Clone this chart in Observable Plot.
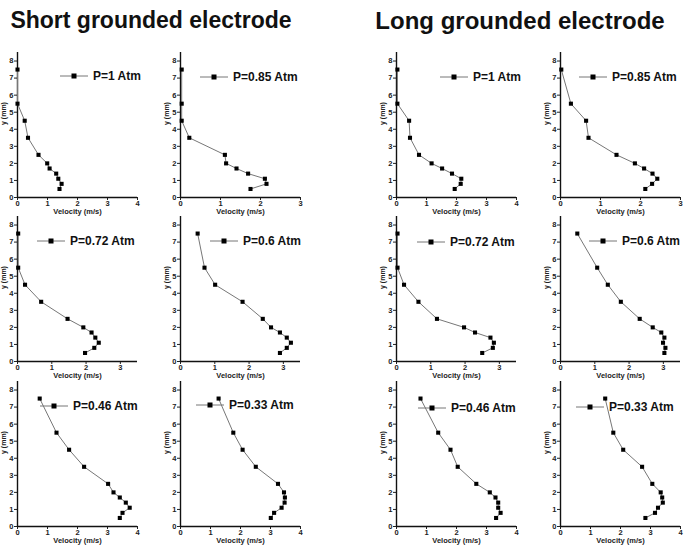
<!DOCTYPE html>
<html>
<head>
<meta charset="utf-8">
<script src="https://cdn.jsdelivr.net/npm/d3@7"></script>
<script src="https://cdn.jsdelivr.net/npm/@observablehq/plot@0.6"></script>
<style>
  html, body { margin: 0; padding: 0; background: #fff; }
  #root { position: relative; width: 691px; height: 554px; overflow: hidden; background: #fff; font-family: "Liberation Sans", Arial, sans-serif; }
  .title { position: absolute; top: 7px; font-weight: bold; color: #111; white-space: nowrap; transform: translateX(-50%); }
  .panel { position: absolute; }
  .legend { position: absolute; }
</style>
</head>
<body>
<div id="root"></div>
<script>
// Heights above the electrode (mm) at which velocity was measured
const yLevels = [7.5, 5.5, 4.5, 3.5, 2.5, 2.0, 1.7, 1.4, 1.1, 0.8, 0.5];

// Velocity (m/s) — short grounded electrode
const shortP100 = [0.00, 0.00, 0.24, 0.35, 0.70, 0.99, 1.07, 1.29, 1.36, 1.47, 1.40];
const shortP085 = [0.03, 0.03, 0.03, 0.22, 1.11, 1.14, 1.40, 1.69, 2.11, 2.15, 1.75];
const shortP072 = [0.02, 0.02, 0.22, 0.69, 1.46, 1.92, 2.16, 2.27, 2.37, 2.24, 1.97];
const shortP060 = [0.50, 0.70, 1.01, 1.81, 2.40, 2.64, 2.90, 3.10, 3.22, 3.10, 2.90];
const shortP046 = [0.74, 1.30, 1.72, 2.22, 3.02, 3.20, 3.41, 3.61, 3.74, 3.50, 3.41];
const shortP033 = [1.27, 1.76, 2.07, 2.51, 3.25, 3.45, 3.48, 3.47, 3.37, 3.12, 3.01];

// Velocity (m/s) — long grounded electrode
const longP100 = [0.03, 0.03, 0.42, 0.45, 0.75, 1.17, 1.52, 1.85, 2.16, 2.14, 1.94];
const longP085 = [0.02, 0.26, 0.64, 0.70, 1.40, 1.86, 2.09, 2.30, 2.42, 2.29, 2.12];
const longP072 = [0.03, 0.03, 0.22, 0.64, 1.18, 1.97, 2.29, 2.74, 2.84, 2.81, 2.50];
const longP060 = [0.49, 1.07, 1.38, 1.76, 2.31, 2.69, 2.94, 3.03, 2.99, 3.06, 3.03];
const longP046 = [0.80, 1.39, 1.80, 2.04, 2.66, 3.11, 3.30, 3.39, 3.39, 3.47, 3.32];
const longP033 = [1.49, 1.76, 2.09, 2.72, 3.06, 3.34, 3.39, 3.41, 3.25, 3.15, 2.83];

// Legend labels, x-axis maxima
const legendLabels = ["P=1 Atm", "P=0.85 Atm", "P=0.72 Atm", "P=0.6 Atm", "P=0.46 Atm", "P=0.33 Atm"];
const xMaxShort = [4, 3, 3.5, 3.5, 4, 4];
const xMaxLong  = [4, 3, 3.5, 3.5, 4, 4];
const titles = ["Short grounded electrode", "Long grounded electrode"];

// ---- layout (not data) ----
const colAxisX = [17, 180, 396, 560];
const rowBaseY = [197, 361, 526];
const plotW = 120, plotH = 145;
const mL = 17, mR = 10, mT = 6, mB = 22;
// legend line start offset and vertical offset from frame top, per panel
const legendOffShort = [[43, 24], [20, 25], [20, 25], [30, 25], [23, 25], [16, 24]];
const legendOffLong  = [[44, 25], [19, 25], [21, 26], [29, 25], [22, 27], [16, 26]];
const titleLayout = [[151, 23], [520, 24]];

const root = document.getElementById("root");

titleLayout.forEach(([cx, fs], i) => {
  const d = document.createElement("div");
  d.className = "title";
  d.style.left = cx + "px";
  d.style.fontSize = fs + "px";
  d.textContent = titles[i];
  root.appendChild(d);
});

const groups = [
  {series: [shortP100, shortP085, shortP072, shortP060, shortP046, shortP033], xmax: xMaxShort, cols: [0, 1], leg: legendOffShort},
  {series: [longP100, longP085, longP072, longP060, longP046, longP033], xmax: xMaxLong, cols: [2, 3], leg: legendOffLong}
];

groups.forEach(g => {
  g.series.forEach((vals, k) => {
    const row = Math.floor(k / 2), col = g.cols[k % 2];
    const data = yLevels.map((y, i) => ({y, v: vals[i]}));
    const xmax = g.xmax[k];
    const ax = colAxisX[col], y0 = rowBaseY[row];
    const chart = Plot.plot({
      width: mL + plotW + mR,
      height: mT + plotH + mB,
      marginLeft: mL, marginRight: mR, marginTop: mT, marginBottom: mB,
      style: {fontFamily: "'Liberation Sans', Arial, sans-serif", fontSize: "7.5px", fontWeight: "bold", color: "#222", background: "transparent", overflow: "visible"},
      x: {domain: [0, xmax], ticks: d3.range(0, Math.floor(xmax) + 1), tickFormat: "d", tickSize: 3, tickPadding: 0, label: null},
      y: {domain: [0, 8.5], ticks: d3.range(0, 9), tickFormat: "d", tickSize: 3, tickPadding: 1, label: null},
      marks: [
        Plot.ruleY([0], {stroke: "#111", strokeWidth: 1.4}),
        Plot.ruleX([0], {stroke: "#111", strokeWidth: 1.4}),
        Plot.line(data, {x: "v", y: "y", stroke: "#777", strokeWidth: 1}),
        Plot.dot(data, {x: "v", y: "y", symbol: "square", r: 2.3, fill: "#000", stroke: "none"}),
        Plot.text(["Velocity (m/s)"], {text: d => d, frameAnchor: "bottom", dy: 16, fontSize: 7.5, fontWeight: "bold", fill: "#222"}),
        Plot.text(["y (mm)"], {text: d => d, frameAnchor: "left", dx: -14, rotate: -90, fontSize: 7, fontWeight: "bold", fill: "#222"})
      ]
    });
    const wrap = document.createElement("div");
    wrap.className = "panel";
    wrap.style.left = (ax - mL) + "px";
    wrap.style.top = (y0 - plotH - mT) + "px";
    wrap.appendChild(chart);
    root.appendChild(wrap);

    // legend
    const [lx, ly] = g.leg[k];
    const legSvg = d3.create("svg").attr("width", 100).attr("height", 16).style("overflow", "visible");
    legSvg.append("line").attr("x1", 0).attr("x2", 28).attr("y1", 8).attr("y2", 8).attr("stroke", "#777").attr("stroke-width", 1);
    legSvg.append("rect").attr("x", 11.5).attr("y", 5.5).attr("width", 5).attr("height", 5).attr("fill", "#000");
    legSvg.append("text").attr("x", 33).attr("y", 8).attr("dy", "0.36em")
      .attr("font-family", "'Liberation Sans', Arial, sans-serif").attr("font-size", 12).attr("font-weight", "bold").attr("fill", "#111")
      .text(legendLabels[k]);
    const ld = document.createElement("div");
    ld.className = "legend";
    ld.style.left = (ax + lx) + "px";
    ld.style.top = (y0 - plotH + ly - 8) + "px";
    ld.appendChild(legSvg.node());
    root.appendChild(ld);
  });
});
</script>
</body>
</html>
